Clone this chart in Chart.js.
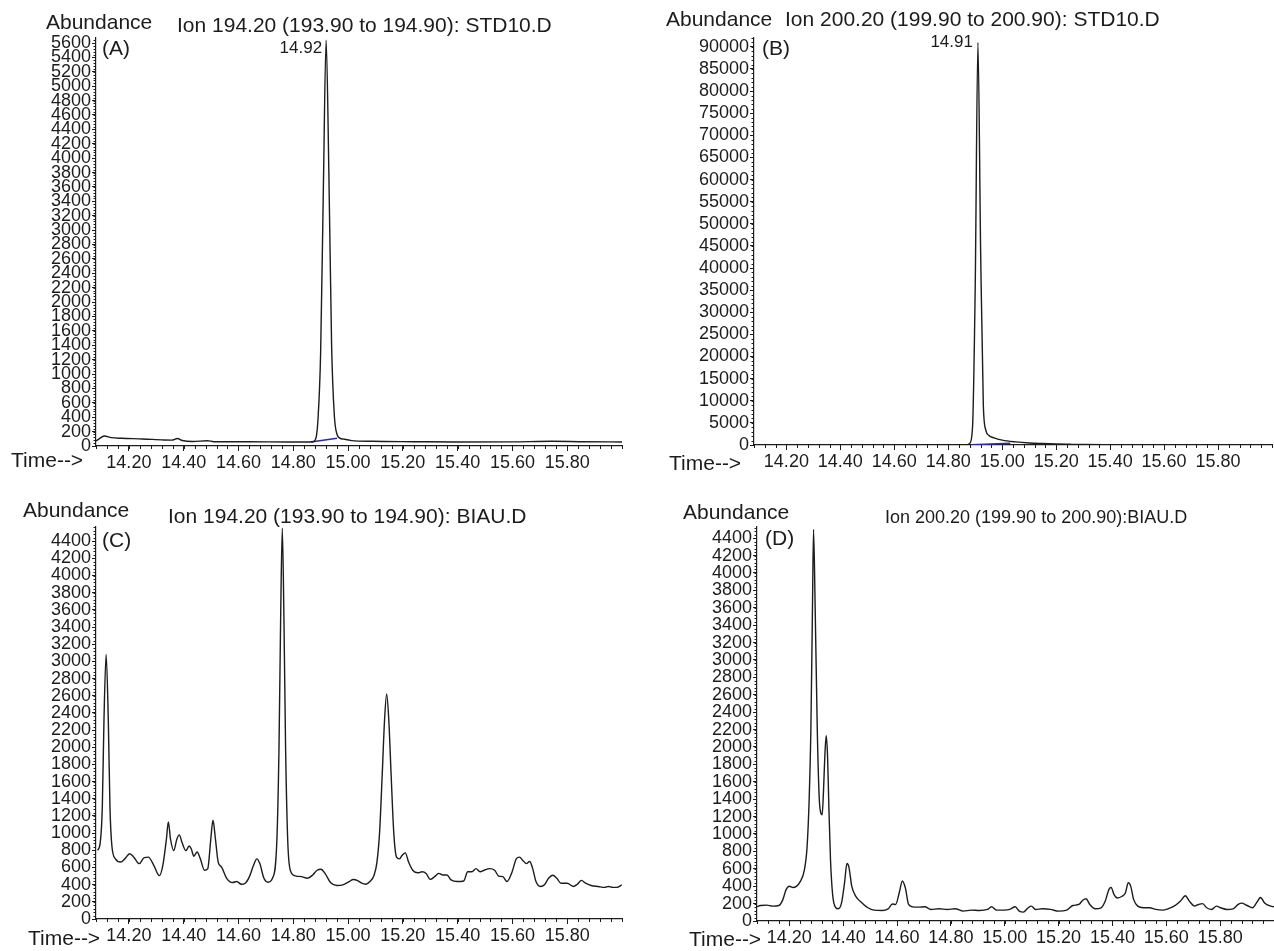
<!DOCTYPE html>
<html>
<head>
<meta charset="utf-8">
<title>Extracted ion chromatograms</title>
<script src="https://cdn.jsdelivr.net/npm/chart.js@4.4.1/dist/chart.umd.min.js"></script>
<style>
  html, body { margin: 0; padding: 0; background: #fff; overflow: hidden; }
  canvas { position: absolute; left: 0; top: 0; }
</style>
</head>
<body>
<canvas id="chartA" width="1274" height="951"></canvas>
<canvas id="chartB" width="1274" height="951"></canvas>
<canvas id="chartC" width="1274" height="951"></canvas>
<canvas id="chartD" width="1274" height="951"></canvas>
<script>
// ---- Retention time (min) and abundance, one pair of arrays per trace ----
const timeA = [14.08, 14.09, 14.11, 14.136, 14.174, 14.25, 14.327, 14.357, 14.377, 14.395, 14.433, 14.487, 14.51, 14.632, 14.784, 14.86, 14.875, 14.885, 14.89, 14.90, 14.91, 14.92, 14.93, 14.94, 14.95, 14.96, 14.97, 14.985, 15.013, 15.089, 15.242, 15.394, 15.6, 15.745, 15.852, 16.0];
const abundA = [70, 95, 140, 116, 107, 98, 84, 82, 105, 76, 62, 74, 60, 60, 56, 56, 62, 150, 350, 1300, 3600, 5640, 3800, 1400, 420, 160, 110, 95, 75, 65, 60, 56, 58, 65, 60, 56];
const baselineTimeA = [14.864, 14.96];
const baselineAbundA = [56, 107];

const timeB = [14.08, 14.3, 14.6, 14.8, 14.87, 14.88, 14.89, 14.90, 14.91, 14.92, 14.93, 14.94, 14.95, 14.97, 15.0, 15.05, 15.1, 15.15, 15.2, 15.25, 15.3, 15.4, 15.6, 16.0];
const abundB = [60, 60, 55, 55, 70, 400, 4000, 36000, 91000, 44000, 9000, 3200, 2200, 1600, 1100, 700, 460, 330, 230, 160, 100, 70, 60, 55];
const baselineTimeB = [14.885, 15.03];
const baselineAbundB = [60, 400];

const timeC = [14.086, 14.095, 14.103, 14.109, 14.117, 14.125, 14.131, 14.138, 14.151, 14.17, 14.185, 14.203, 14.218, 14.238, 14.256, 14.271, 14.291, 14.311, 14.324, 14.337, 14.344, 14.352, 14.364, 14.375, 14.384, 14.394, 14.408, 14.42, 14.428, 14.437, 14.449, 14.461, 14.476, 14.488, 14.499, 14.507, 14.516, 14.526, 14.538, 14.557, 14.579, 14.594, 14.61, 14.625, 14.64, 14.655, 14.667, 14.678, 14.693, 14.708, 14.724, 14.74, 14.748, 14.754, 14.76, 14.766, 14.772, 14.78, 14.79, 14.81, 14.83, 14.852, 14.871, 14.887, 14.901, 14.916, 14.936, 14.959, 14.981, 15.004, 15.019, 15.035, 15.05, 15.065, 15.08, 15.095, 15.105, 15.115, 15.125, 15.133, 15.141, 15.149, 15.157, 15.167, 15.177, 15.187, 15.197, 15.209, 15.221, 15.236, 15.255, 15.27, 15.285, 15.3, 15.316, 15.331, 15.346, 15.361, 15.376, 15.399, 15.422, 15.437, 15.452, 15.467, 15.482, 15.497, 15.517, 15.535, 15.55, 15.565, 15.58, 15.599, 15.614, 15.626, 15.638, 15.651, 15.663, 15.674, 15.686, 15.702, 15.717, 15.732, 15.747, 15.762, 15.777, 15.8, 15.822, 15.837, 15.852, 15.867, 15.89, 15.913, 15.936, 15.951, 15.966, 15.981, 16.0];
const abundC = [800, 880, 1300, 2300, 3080, 2300, 1300, 850, 700, 663, 700, 760, 720, 645, 715, 720, 625, 505, 625, 930, 1130, 930, 796, 930, 980, 890, 796, 850, 815, 731, 780, 700, 568, 587, 930, 1150, 930, 663, 606, 474, 425, 436, 405, 417, 493, 625, 700, 645, 474, 428, 474, 900, 2000, 3500, 4550, 3500, 2000, 900, 560, 500, 493, 474, 512, 568, 580, 531, 425, 390, 398, 436, 460, 447, 417, 405, 436, 510, 650, 1000, 1700, 2300, 2620, 2300, 1700, 1000, 720, 700, 739, 770, 663, 568, 538, 550, 531, 462, 493, 531, 512, 512, 455, 436, 443, 550, 550, 587, 550, 568, 587, 568, 500, 493, 436, 550, 700, 720, 682, 645, 670, 587, 436, 379, 398, 474, 510, 474, 417, 417, 379, 405, 450, 417, 387, 379, 368, 379, 368, 368, 398];

const timeD = [14.078, 14.093, 14.116, 14.138, 14.161, 14.176, 14.188, 14.2, 14.214, 14.226, 14.241, 14.256, 14.266, 14.274, 14.28, 14.286, 14.29, 14.296, 14.304, 14.311, 14.317, 14.322, 14.327, 14.332, 14.337, 14.342, 14.347, 14.353, 14.361, 14.372, 14.382, 14.394, 14.405, 14.414, 14.421, 14.432, 14.447, 14.47, 14.492, 14.515, 14.545, 14.567, 14.583, 14.595, 14.608, 14.62, 14.631, 14.643, 14.658, 14.68, 14.703, 14.726, 14.756, 14.786, 14.816, 14.846, 14.876, 14.906, 14.936, 14.951, 14.97, 14.997, 15.019, 15.039, 15.054, 15.069, 15.087, 15.099, 15.114, 15.14, 15.17, 15.2, 15.23, 15.253, 15.275, 15.29, 15.302, 15.316, 15.336, 15.358, 15.373, 15.388, 15.395, 15.406, 15.418, 15.436, 15.448, 15.459, 15.468, 15.479, 15.494, 15.515, 15.538, 15.561, 15.587, 15.606, 15.629, 15.652, 15.671, 15.686, 15.705, 15.72, 15.735, 15.75, 15.768, 15.787, 15.802, 15.825, 15.848, 15.867, 15.88, 15.9, 15.92, 15.935, 15.95, 15.965, 15.988, 16.0];
const abundD = [163, 178, 182, 171, 178, 246, 360, 400, 385, 398, 455, 588, 853, 1421, 2180, 3600, 4500, 3600, 2180, 1420, 1240, 1220, 1500, 1900, 2130, 1900, 1300, 700, 300, 155, 140, 208, 436, 660, 625, 398, 284, 208, 152, 125, 121, 140, 195, 190, 322, 460, 379, 190, 163, 159, 163, 133, 140, 133, 140, 114, 125, 121, 133, 163, 125, 125, 133, 163, 114, 102, 152, 171, 133, 140, 133, 114, 125, 178, 190, 239, 255, 190, 140, 152, 227, 370, 385, 303, 265, 284, 322, 440, 398, 246, 171, 152, 152, 133, 125, 140, 171, 227, 290, 227, 171, 190, 200, 152, 133, 171, 152, 133, 140, 190, 205, 178, 152, 208, 270, 208, 171, 163];

// Labelled retention times of the standard peaks
const peakTimeA = 14.92;
const peakTimeB = 14.91;

// Axis ranges and tick steps
const timeMin = 14.08, timeMax = 16.0, timeStep = 0.2, timeMinor = 0.04;
const firstTimeLabel = 14.2, lastTimeLabel = 15.8;

const FONT = "'Liberation Sans', Arial, Helvetica, sans-serif";
const INK = '#1c1c1c';

// Minor tick marks and free text (axis captions, titles, panel letters, peak labels)
const decorPlugin = {
  id: 'decor',
  afterDraw(chart, args, opts) {
    const ctx = chart.ctx;
    const xs = chart.scales.x, ys = chart.scales.y;
    ctx.save();
    ctx.strokeStyle = INK;
    ctx.lineWidth = 1;
    ctx.beginPath();
    for (let v = opts.minorY; v <= ys.max + 1e-9; v += opts.minorY) {
      const py = Math.round(ys.getPixelForValue(v)) + 0.5;
      ctx.moveTo(xs.left - 2.5, py);
      ctx.lineTo(xs.left, py);
    }
    const start = Math.ceil(xs.min / timeMinor - 1e-6) * timeMinor;
    for (let v = start; v <= xs.max + 1e-9; v += timeMinor) {
      const px = Math.round(xs.getPixelForValue(v)) + 0.5;
      ctx.moveTo(px, ys.bottom);
      ctx.lineTo(px, ys.bottom + 3);
    }
    ctx.stroke();

    ctx.fillStyle = INK;
    ctx.textBaseline = 'alphabetic';
    for (const t of opts.texts) {
      ctx.font = t.size + 'px ' + FONT;
      ctx.textAlign = t.align || 'left';
      ctx.fillText(t.text, t.x, t.y);
    }
    if (opts.peak) {
      const p = opts.peak;
      ctx.font = p.size + 'px ' + FONT;
      ctx.textAlign = 'right';
      ctx.fillText(p.time.toFixed(2), xs.getPixelForValue(p.time) - p.gap, p.y);
    }
    ctx.restore();
  }
};

function points(ts, vs) {
  return ts.map((t, i) => ({ x: t, y: vs[i] }));
}

function makeChart(id, cfg) {
  const W = 1274, H = 951;
  const datasets = [{
    data: points(cfg.time, cfg.abund),
    borderColor: INK,
    borderWidth: 1.4,
    pointRadius: 0,
    cubicInterpolationMode: 'monotone',
    fill: false
  }];
  if (cfg.baseTime) {
    datasets.push({
      data: points(cfg.baseTime, cfg.baseAbund),
      borderColor: '#2a2aa8',
      borderWidth: 1.6,
      pointRadius: 0,
      fill: false
    });
  }
  return new Chart(document.getElementById(id), {
    type: 'line',
    data: { datasets },
    plugins: [decorPlugin],
    options: {
      responsive: false,
      animation: false,
      events: [],
      layout: { padding: { left: 0, top: cfg.top, right: W - cfg.right, bottom: 0 } },
      plugins: {
        legend: { display: false },
        tooltip: { enabled: false },
        decor: { minorY: cfg.minorY, texts: cfg.texts, peak: cfg.peak }
      },
      scales: {
        x: {
          type: 'linear',
          min: timeMin,
          max: timeMax,
          afterFit: s => { s.height = H - cfg.bottom; },
          afterBuildTicks: s => {
            s.ticks = [];
            for (let v = firstTimeLabel; v <= lastTimeLabel + 1e-6; v += timeStep) {
              s.ticks.push({ value: Math.round(v * 100) / 100 });
            }
          },
          border: { display: true, color: INK, width: 1.2 },
          grid: { display: true, drawOnChartArea: false, drawTicks: true, tickLength: 5, color: INK, tickColor: INK },
          ticks: {
            autoSkip: false, maxRotation: 0, minRotation: 0, padding: 1,
            color: INK, font: { family: FONT, size: 18 },
            callback: v => Number(v).toFixed(2)
          }
        },
        y: {
          type: 'linear',
          min: 0,
          max: cfg.yMax,
          afterFit: s => { s.width = cfg.left; },
          afterBuildTicks: s => {
            s.ticks = [];
            for (let v = 0; v <= cfg.yMax; v += cfg.yStep) s.ticks.push({ value: v });
          },
          border: { display: true, color: INK, width: 1.2 },
          grid: { display: true, drawOnChartArea: false, drawTicks: true, tickLength: 4, color: INK, tickColor: INK },
          ticks: {
            autoSkip: false, padding: 1, color: INK,
            font: { family: FONT, size: 18, lineHeight: 1 },
            callback: v => String(v)
          }
        }
      }
    }
  });
}

// (A) m/z 194 trace of the standard
makeChart('chartA', {
  time: timeA, abund: abundA, baseTime: baselineTimeA, baseAbund: baselineAbundA,
  left: 96, right: 622, top: 38, bottom: 446,
  yMax: 5670, yStep: 200, minorY: 40,
  peak: { time: peakTimeA, y: 53, gap: 4, size: 17 },
  texts: [
    { text: 'Abundance', x: 46, y: 29, size: 21 },
    { text: 'Ion 194.20 (193.90 to 194.90): STD10.D', x: 177, y: 32, size: 21 },
    { text: '(A)', x: 102, y: 55, size: 21 },
    { text: 'Time-->', x: 11, y: 467, size: 21 }
  ]
});

// (B) m/z 200 trace of the standard
makeChart('chartB', {
  time: timeB, abund: abundB, baseTime: baselineTimeB, baseAbund: baselineAbundB,
  left: 754, right: 1272, top: 38, bottom: 445,
  yMax: 92000, yStep: 5000, minorY: 1000,
  peak: { time: peakTimeB, y: 47, gap: 5, size: 17 },
  texts: [
    { text: 'Abundance', x: 666, y: 26, size: 21 },
    { text: 'Ion 200.20 (199.90 to 200.90): STD10.D', x: 785, y: 26, size: 21 },
    { text: '(B)', x: 762, y: 55, size: 21 },
    { text: 'Time-->', x: 669, y: 470, size: 21 }
  ]
});

// (C) m/z 194 trace of the sample
makeChart('chartC', {
  time: timeC, abund: abundC,
  left: 96, right: 622, top: 527, bottom: 919,
  yMax: 4565, yStep: 200, minorY: 40,
  texts: [
    { text: 'Abundance', x: 23, y: 517, size: 21 },
    { text: 'Ion 194.20 (193.90 to 194.90): BIAU.D', x: 168, y: 523, size: 21 },
    { text: '(C)', x: 102, y: 547, size: 21 },
    { text: 'Time-->', x: 28, y: 945, size: 21 }
  ]
});

// (D) m/z 200 trace of the sample
makeChart('chartD', {
  time: timeD, abund: abundD,
  left: 757, right: 1274, top: 527, bottom: 921,
  yMax: 4528, yStep: 200, minorY: 40,
  texts: [
    { text: 'Abundance', x: 683, y: 519, size: 21 },
    { text: 'Ion 200.20 (199.90 to 200.90):BIAU.D', x: 885, y: 523, size: 18 },
    { text: '(D)', x: 765, y: 545, size: 21 },
    { text: 'Time-->', x: 689, y: 946, size: 21 }
  ]
});
</script>
</body>
</html>
